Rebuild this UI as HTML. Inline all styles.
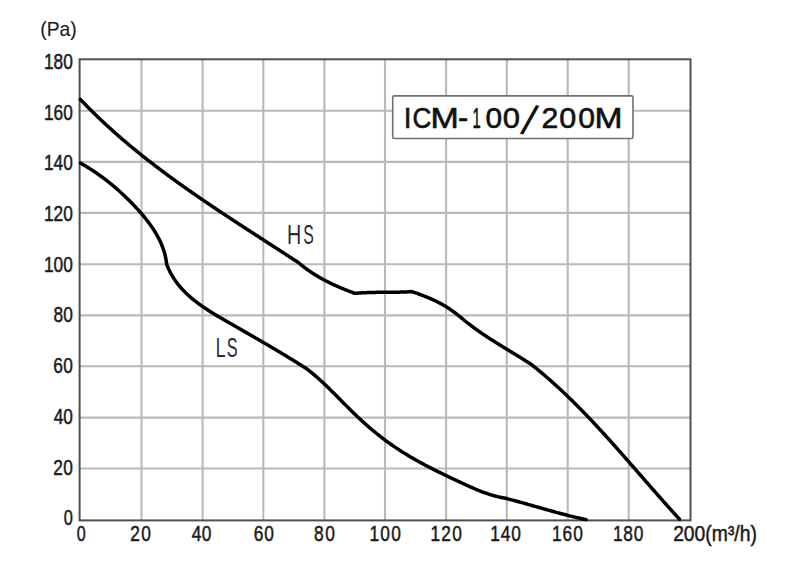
<!DOCTYPE html>
<html><head><meta charset="utf-8"><style>
html,body{margin:0;padding:0;background:#fff;}
svg{display:block;}
</style></head><body>
<svg width="800" height="576" viewBox="0 0 800 576">
<rect width="800" height="576" fill="#fff"/>
<g stroke="#b9b9b9" stroke-width="2.1" fill="none">
<line x1="141.5" y1="59.3" x2="141.5" y2="520.4"/>
<line x1="202.6" y1="59.3" x2="202.6" y2="520.4"/>
<line x1="263.3" y1="59.3" x2="263.3" y2="520.4"/>
<line x1="324.4" y1="59.3" x2="324.4" y2="520.4"/>
<line x1="385.0" y1="59.3" x2="385.0" y2="520.4"/>
<line x1="446.1" y1="59.3" x2="446.1" y2="520.4"/>
<line x1="506.8" y1="59.3" x2="506.8" y2="520.4"/>
<line x1="567.7" y1="59.3" x2="567.7" y2="520.4"/>
<line x1="628.7" y1="59.3" x2="628.7" y2="520.4"/>
<line x1="79.6" y1="468.5" x2="690.5" y2="468.5"/>
<line x1="79.6" y1="417.6" x2="690.5" y2="417.6"/>
<line x1="79.6" y1="366.3" x2="690.5" y2="366.3"/>
<line x1="79.6" y1="315.4" x2="690.5" y2="315.4"/>
<line x1="79.6" y1="264.3" x2="690.5" y2="264.3"/>
<line x1="79.6" y1="212.9" x2="690.5" y2="212.9"/>
<line x1="79.6" y1="161.9" x2="690.5" y2="161.9"/>
<line x1="79.6" y1="110.8" x2="690.5" y2="110.8"/>
</g>
<rect x="79.6" y="59.3" width="610.9" height="461.1" fill="none" stroke="#505050" stroke-width="2.0"/>
<rect x="392.7" y="95.9" width="240.3" height="42.6" rx="1.5" fill="#fff" stroke="#707070" stroke-width="1.6"/>
<g fill="none" stroke="#000" stroke-width="3.5" stroke-linejoin="round" stroke-linecap="round">
<path d="M80.40,99.40 L81.10,100.14 L81.80,100.87 L82.50,101.61 L83.21,102.34 L83.91,103.07 L84.62,103.80 L85.32,104.53 L86.03,105.26 L86.74,105.98 L87.45,106.70 L88.17,107.43 L88.88,108.15 L89.60,108.87 L90.31,109.58 L91.03,110.30 L91.75,111.01 L92.47,111.73 L93.19,112.44 L93.91,113.15 L94.63,113.85 L95.36,114.56 L96.08,115.27 L96.81,115.97 L97.54,116.67 L98.27,117.37 L99.00,118.07 L99.73,118.77 L100.46,119.47 L101.20,120.16 L101.93,120.86 L102.67,121.55 L103.41,122.24 L104.15,122.93 L104.89,123.62 L105.63,124.30 L106.37,124.99 L107.11,125.67 L107.86,126.35 L108.60,127.04 L109.35,127.72 L110.09,128.39 L110.84,129.07 L111.59,129.75 L112.34,130.42 L113.10,131.09 L113.85,131.77 L114.60,132.44 L115.36,133.11 L116.11,133.77 L116.87,134.44 L117.63,135.11 L118.39,135.77 L119.15,136.43 L119.91,137.09 L120.67,137.75 L121.43,138.41 L122.20,139.07 L122.96,139.73 L123.73,140.38 L124.49,141.04 L125.26,141.69 L126.03,142.34 L126.80,142.99 L127.57,143.64 L128.34,144.29 L129.11,144.94 L129.89,145.58 L130.66,146.23 L131.44,146.87 L132.21,147.52 L132.99,148.16 L133.77,148.80 L134.55,149.44 L135.33,150.07 L136.11,150.71 L136.89,151.35 L137.67,151.98 L138.46,152.62 L139.24,153.25 L140.03,153.88 L140.81,154.51 L141.60,155.14 L142.39,155.77 L143.17,156.39 L143.96,157.02 L144.75,157.65 L145.55,158.27 L146.34,158.89 L147.13,159.51 L147.92,160.14 L148.72,160.76 L149.51,161.38 L150.31,161.99 L151.10,162.61 L151.90,163.23 L152.70,163.84 L153.50,164.46 L154.30,165.07 L155.10,165.68 L155.90,166.29 L156.70,166.90 L157.50,167.51 L158.31,168.12 L159.11,168.73 L159.92,169.34 L160.72,169.94 L161.53,170.55 L162.34,171.15 L163.14,171.76 L163.95,172.36 L164.76,172.96 L165.57,173.56 L166.38,174.16 L167.19,174.76 L168.00,175.36 L168.81,175.95 L169.63,176.55 L170.44,177.15 L171.25,177.74 L172.07,178.34 L172.89,178.93 L173.70,179.52 L174.52,180.11 L175.34,180.71 L176.15,181.30 L176.97,181.88 L177.79,182.47 L178.61,183.06 L179.43,183.65 L180.25,184.24 L181.07,184.82 L181.89,185.41 L182.72,185.99 L183.54,186.58 L184.36,187.16 L185.19,187.74 L186.01,188.32 L186.84,188.90 L187.66,189.48 L188.49,190.06 L189.32,190.64 L190.14,191.22 L190.97,191.80 L191.80,192.38 L192.63,192.95 L193.46,193.53 L194.29,194.10 L195.12,194.68 L195.95,195.25 L196.78,195.83 L197.61,196.40 L198.44,196.97 L199.27,197.54 L200.11,198.12 L200.94,198.69 L201.77,199.26 L202.61,199.83 L203.44,200.39 L204.28,200.96 L205.11,201.53 L205.95,202.10 L206.79,202.67 L207.62,203.23 L208.46,203.80 L209.30,204.36 L210.13,204.93 L210.97,205.49 L211.81,206.06 L212.65,206.62 L213.49,207.19 L214.33,207.75 L215.17,208.31 L216.01,208.87 L216.85,209.43 L217.69,210.00 L218.53,210.56 L219.37,211.12 L220.21,211.68 L221.05,212.24 L221.90,212.80 L222.74,213.35 L223.58,213.91 L224.42,214.47 L225.27,215.03 L226.11,215.59 L226.96,216.14 L227.80,216.70 L228.64,217.26 L229.49,217.81 L230.33,218.37 L231.18,218.92 L232.02,219.48 L232.87,220.03 L233.71,220.59 L234.56,221.14 L235.41,221.70 L236.25,222.25 L237.10,222.80 L237.94,223.36 L238.79,223.91 L239.64,224.46 L240.49,225.02 L241.33,225.57 L242.18,226.12 L243.03,226.67 L243.88,227.22 L244.72,227.78 L245.57,228.33 L246.42,228.88 L247.27,229.43 L248.12,229.98 L248.96,230.53 L249.81,231.08 L250.66,231.63 L251.51,232.18 L252.36,232.73 L253.21,233.28 L254.06,233.83 L254.91,234.38 L255.75,234.93 L256.60,235.48 L257.45,236.03 L258.30,236.58 L259.15,237.13 L260.00,237.68 L260.85,238.23 L261.70,238.78 L262.55,239.33 L263.40,239.88 L264.25,240.43 L265.10,240.97 L265.95,241.52 L266.79,242.07 L267.64,242.62 L268.49,243.17 L269.34,243.72 L270.19,244.27 L271.04,244.82 L271.89,245.37 L272.74,245.92 L273.59,246.47 L274.44,247.02 L275.29,247.56 L276.13,248.11 L276.98,248.66 L277.83,249.21 L278.68,249.76 L279.53,250.31 L280.38,250.86 L281.22,251.41 L282.07,251.96 L282.92,252.51 L283.77,253.06 L284.62,253.61 L285.46,254.16 L286.31,254.72 L287.16,255.27 L288.01,255.82 L288.85,256.37 L289.70,256.92 L290.55,257.47 L291.39,258.02 L292.24,258.58 L293.08,259.13 L293.93,259.68 L294.78,260.23 L295.62,260.79 L296.47,261.34 L297.31,261.89 L298.16,262.45 L299.00,263.00 L299.61,263.52 L300.23,264.04 L300.84,264.56 L301.47,265.07 L302.09,265.58 L302.72,266.08 L303.35,266.58 L303.99,267.07 L304.63,267.56 L305.27,268.04 L305.91,268.53 L306.56,269.00 L307.21,269.48 L307.87,269.94 L308.52,270.41 L309.18,270.87 L309.85,271.33 L310.51,271.78 L311.18,272.23 L311.85,272.68 L312.52,273.12 L313.20,273.55 L313.88,273.99 L314.56,274.42 L315.25,274.85 L315.93,275.27 L316.62,275.69 L317.31,276.10 L318.01,276.52 L318.70,276.92 L319.40,277.33 L320.10,277.73 L320.81,278.13 L321.51,278.52 L322.22,278.91 L322.93,279.30 L323.64,279.69 L324.35,280.07 L325.07,280.45 L325.78,280.82 L326.50,281.19 L327.22,281.56 L327.94,281.93 L328.67,282.29 L329.39,282.65 L330.12,283.01 L330.85,283.36 L331.58,283.71 L332.31,284.06 L333.04,284.40 L333.78,284.75 L334.51,285.09 L335.25,285.42 L335.99,285.76 L336.73,286.09 L337.47,286.42 L338.21,286.74 L338.95,287.06 L339.69,287.38 L340.44,287.70 L341.18,288.02 L341.93,288.33 L342.68,288.64 L343.42,288.95 L344.17,289.25 L344.92,289.56 L345.67,289.86 L346.42,290.16 L347.17,290.45 L347.92,290.75 L348.67,291.04 L349.43,291.33 L350.18,291.62 L350.93,291.90 L351.69,292.19 L352.44,292.47 L353.19,292.75 L353.95,293.02 L354.70,293.30 L356.54,293.15 L358.38,293.02 L360.22,292.90 L362.06,292.80 L363.90,292.71 L365.74,292.64 L367.58,292.57 L369.42,292.51 L371.26,292.47 L373.11,292.43 L374.95,292.40 L376.79,292.37 L378.63,292.35 L380.48,292.33 L382.32,292.32 L384.16,292.30 L386.01,292.29 L387.85,292.28 L389.69,292.27 L391.54,292.25 L393.38,292.23 L395.22,292.20 L397.07,292.17 L398.91,292.14 L400.75,292.09 L402.59,292.04 L404.44,291.97 L406.28,291.90 L408.12,291.81 L409.96,291.71 L411.80,291.60 L412.56,291.86 L413.33,292.12 L414.09,292.38 L414.85,292.65 L415.61,292.91 L416.37,293.18 L417.13,293.45 L417.89,293.72 L418.65,294.00 L419.41,294.27 L420.17,294.55 L420.93,294.83 L421.68,295.12 L422.44,295.40 L423.19,295.69 L423.94,295.98 L424.69,296.27 L425.44,296.57 L426.19,296.87 L426.94,297.17 L427.69,297.48 L428.43,297.78 L429.17,298.10 L429.91,298.41 L430.65,298.73 L431.39,299.05 L432.12,299.38 L432.86,299.71 L433.59,300.04 L434.31,300.38 L435.04,300.72 L435.76,301.06 L436.49,301.41 L437.20,301.77 L437.92,302.13 L438.63,302.49 L439.34,302.86 L440.05,303.23 L440.76,303.60 L441.46,303.98 L442.16,304.37 L442.86,304.76 L443.55,305.16 L444.24,305.56 L444.93,305.96 L445.61,306.38 L446.29,306.79 L446.96,307.22 L447.64,307.64 L448.31,308.08 L448.97,308.52 L449.63,308.96 L450.29,309.41 L450.94,309.87 L451.59,310.33 L452.24,310.80 L452.89,311.27 L453.53,311.75 L454.17,312.23 L454.80,312.71 L455.44,313.20 L456.07,313.69 L456.70,314.18 L457.33,314.68 L457.95,315.18 L458.58,315.68 L459.20,316.18 L459.83,316.69 L460.45,317.19 L461.07,317.70 L461.69,318.21 L462.32,318.71 L462.94,319.22 L463.56,319.73 L464.18,320.23 L464.81,320.74 L465.43,321.24 L466.06,321.75 L466.69,322.25 L467.32,322.75 L467.95,323.25 L468.58,323.74 L469.21,324.23 L469.85,324.72 L470.49,325.21 L471.13,325.69 L471.77,326.18 L472.41,326.66 L473.05,327.14 L473.70,327.61 L474.35,328.09 L475.00,328.56 L475.65,329.03 L476.30,329.50 L476.95,329.96 L477.61,330.43 L478.26,330.89 L478.92,331.35 L479.58,331.81 L480.24,332.27 L480.90,332.72 L481.56,333.17 L482.23,333.63 L482.89,334.08 L483.56,334.53 L484.23,334.97 L484.89,335.42 L485.56,335.86 L486.23,336.31 L486.90,336.75 L487.58,337.19 L488.25,337.63 L488.92,338.07 L489.60,338.50 L490.27,338.94 L490.95,339.37 L491.63,339.81 L492.31,340.24 L492.98,340.67 L493.66,341.10 L494.34,341.53 L495.03,341.96 L495.71,342.39 L496.39,342.81 L497.07,343.24 L497.75,343.66 L498.44,344.09 L499.12,344.51 L499.81,344.94 L500.49,345.36 L501.18,345.78 L501.86,346.20 L502.55,346.62 L503.23,347.05 L503.92,347.47 L504.61,347.89 L505.29,348.31 L505.98,348.72 L506.67,349.14 L507.36,349.56 L508.04,349.98 L508.73,350.40 L509.42,350.82 L510.10,351.24 L510.79,351.66 L511.48,352.07 L512.17,352.49 L512.85,352.91 L513.54,353.33 L514.23,353.75 L514.91,354.17 L515.60,354.59 L516.29,355.01 L516.97,355.43 L517.66,355.85 L518.34,356.27 L519.03,356.69 L519.71,357.11 L520.39,357.54 L521.08,357.96 L521.76,358.38 L522.44,358.81 L523.12,359.23 L523.81,359.66 L524.49,360.08 L525.17,360.51 L525.84,360.94 L526.52,361.37 L527.20,361.80 L527.88,362.23 L528.55,362.66 L529.23,363.09 L529.90,363.53 L530.58,363.96 L531.25,364.40 L532.26,365.20 L533.27,366.01 L534.27,366.81 L535.28,367.62 L536.28,368.44 L537.27,369.25 L538.27,370.07 L539.26,370.89 L540.25,371.71 L541.24,372.54 L542.22,373.37 L543.21,374.20 L544.19,375.03 L545.16,375.87 L546.14,376.71 L547.11,377.55 L548.08,378.39 L549.05,379.24 L550.01,380.09 L550.98,380.94 L551.94,381.79 L552.89,382.65 L553.85,383.51 L554.80,384.37 L555.76,385.23 L556.71,386.09 L557.65,386.96 L558.60,387.83 L559.54,388.70 L560.48,389.57 L561.42,390.45 L562.36,391.33 L563.29,392.21 L564.23,393.09 L565.16,393.97 L566.09,394.86 L567.01,395.75 L567.94,396.64 L568.86,397.53 L569.78,398.42 L570.70,399.32 L571.62,400.22 L572.53,401.11 L573.45,402.02 L574.36,402.92 L575.27,403.82 L576.18,404.73 L577.09,405.64 L577.99,406.55 L578.90,407.46 L579.80,408.37 L580.70,409.29 L581.60,410.20 L582.50,411.12 L583.39,412.04 L584.29,412.96 L585.18,413.88 L586.07,414.81 L586.96,415.73 L587.85,416.66 L588.74,417.59 L589.62,418.52 L590.51,419.45 L591.39,420.38 L592.27,421.32 L593.15,422.25 L594.03,423.19 L594.91,424.13 L595.79,425.06 L596.66,426.00 L597.54,426.95 L598.41,427.89 L599.28,428.83 L600.16,429.78 L601.03,430.72 L601.89,431.67 L602.76,432.62 L603.63,433.56 L604.50,434.51 L605.36,435.47 L606.22,436.42 L607.09,437.37 L607.95,438.32 L608.81,439.28 L609.67,440.23 L610.53,441.19 L611.39,442.15 L612.25,443.10 L613.11,444.06 L613.96,445.02 L614.82,445.98 L615.67,446.94 L616.53,447.90 L617.38,448.86 L618.24,449.83 L619.09,450.79 L619.94,451.75 L620.79,452.72 L621.64,453.68 L622.49,454.65 L623.35,455.61 L624.19,456.58 L625.04,457.54 L625.89,458.51 L626.74,459.48 L627.59,460.45 L628.44,461.41 L629.28,462.38 L630.13,463.35 L630.98,464.32 L631.82,465.29 L632.67,466.26 L633.52,467.23 L634.36,468.20 L635.21,469.17 L636.05,470.14 L636.90,471.11 L637.74,472.08 L638.59,473.05 L639.43,474.02 L640.28,474.99 L641.12,475.96 L641.97,476.93 L642.81,477.90 L643.66,478.87 L644.50,479.84 L645.35,480.81 L646.19,481.78 L647.04,482.74 L647.89,483.71 L648.73,484.68 L649.58,485.65 L650.42,486.62 L651.27,487.59 L652.12,488.55 L652.96,489.52 L653.81,490.49 L654.66,491.45 L655.51,492.42 L656.36,493.39 L657.21,494.35 L658.06,495.32 L658.91,496.28 L659.76,497.24 L660.61,498.21 L661.46,499.17 L662.31,500.13 L663.16,501.09 L664.02,502.05 L664.87,503.01 L665.72,503.97 L666.58,504.93 L667.43,505.89 L668.29,506.84 L669.15,507.80 L670.01,508.75 L670.87,509.71 L671.72,510.66 L672.59,511.61 L673.45,512.57 L674.31,513.52 L675.17,514.47 L676.04,515.42 L676.90,516.36 L677.77,517.31 L678.63,518.26 L679.50,519.20"/>
<path d="M80.50,163.10 L81.43,163.63 L82.36,164.16 L83.29,164.70 L84.21,165.25 L85.14,165.79 L86.06,166.35 L86.97,166.91 L87.89,167.47 L88.80,168.04 L89.71,168.61 L90.61,169.19 L91.52,169.77 L92.42,170.36 L93.32,170.95 L94.21,171.55 L95.10,172.15 L95.99,172.76 L96.88,173.37 L97.77,173.98 L98.65,174.60 L99.53,175.23 L100.40,175.86 L101.27,176.49 L102.15,177.13 L103.01,177.77 L103.88,178.42 L104.74,179.07 L105.60,179.72 L106.45,180.38 L107.31,181.04 L108.16,181.71 L109.00,182.38 L109.85,183.06 L110.69,183.74 L111.53,184.42 L112.36,185.11 L113.20,185.80 L114.03,186.50 L114.85,187.20 L115.67,187.91 L116.50,188.61 L117.31,189.33 L118.13,190.04 L118.94,190.76 L119.75,191.49 L120.55,192.21 L121.35,192.94 L122.15,193.68 L122.95,194.42 L123.74,195.16 L124.53,195.91 L125.31,196.66 L126.09,197.41 L126.87,198.17 L127.65,198.93 L128.42,199.69 L129.19,200.46 L129.96,201.23 L130.72,202.00 L131.48,202.78 L132.24,203.56 L132.99,204.35 L133.74,205.13 L134.49,205.92 L135.23,206.72 L135.97,207.52 L136.71,208.32 L137.44,209.12 L138.17,209.93 L138.89,210.74 L139.62,211.55 L140.33,212.37 L141.05,213.19 L141.76,214.01 L142.46,214.84 L143.16,215.67 L143.86,216.50 L144.55,217.34 L145.23,218.18 L145.91,219.02 L146.59,219.87 L147.25,220.73 L147.91,221.58 L148.57,222.44 L149.21,223.31 L149.85,224.18 L150.48,225.05 L151.10,225.93 L151.72,226.81 L152.33,227.70 L152.92,228.59 L153.51,229.49 L154.09,230.39 L154.67,231.30 L155.23,232.21 L155.78,233.12 L156.32,234.04 L156.85,234.97 L157.37,235.90 L157.88,236.84 L158.38,237.78 L158.87,238.73 L159.35,239.68 L159.81,240.64 L160.27,241.60 L160.71,242.57 L161.13,243.55 L161.55,244.53 L161.95,245.52 L162.34,246.51 L162.72,247.51 L163.08,248.52 L163.43,249.53 L163.76,250.55 L164.08,251.58 L164.39,252.61 L164.68,253.64 L164.95,254.69 L165.21,255.74 L165.45,256.80 L165.68,257.86 L165.89,258.93 L166.09,260.01 L166.27,261.10 L166.43,262.19 L166.57,263.29 L166.70,264.40 L167.14,265.54 L167.60,266.67 L168.08,267.78 L168.57,268.88 L169.08,269.97 L169.60,271.04 L170.14,272.10 L170.69,273.15 L171.26,274.18 L171.84,275.20 L172.43,276.21 L173.04,277.20 L173.66,278.19 L174.30,279.16 L174.94,280.11 L175.61,281.06 L176.28,282.00 L176.97,282.92 L177.66,283.83 L178.37,284.73 L179.10,285.63 L179.83,286.51 L180.58,287.38 L181.33,288.24 L182.10,289.08 L182.88,289.92 L183.67,290.75 L184.46,291.57 L185.27,292.39 L186.09,293.19 L186.92,293.98 L187.76,294.77 L188.60,295.54 L189.46,296.31 L190.32,297.07 L191.19,297.82 L192.07,298.56 L192.96,299.30 L193.86,300.03 L194.76,300.75 L195.67,301.47 L196.59,302.17 L197.52,302.87 L198.45,303.57 L199.39,304.26 L200.33,304.94 L201.28,305.61 L202.24,306.29 L203.20,306.95 L204.17,307.61 L205.14,308.26 L206.11,308.91 L207.10,309.56 L208.08,310.20 L209.07,310.83 L210.07,311.47 L211.06,312.09 L212.07,312.72 L213.07,313.34 L214.08,313.95 L215.09,314.57 L216.10,315.18 L217.12,315.79 L218.14,316.39 L219.16,316.99 L220.18,317.59 L221.20,318.19 L222.22,318.79 L223.25,319.38 L224.28,319.97 L225.30,320.56 L226.33,321.15 L227.36,321.74 L228.39,322.33 L229.41,322.92 L230.44,323.51 L231.47,324.09 L232.49,324.68 L233.52,325.27 L234.54,325.85 L235.56,326.44 L236.59,327.02 L237.61,327.61 L238.63,328.19 L239.65,328.78 L240.67,329.36 L241.69,329.95 L242.71,330.53 L243.73,331.12 L244.75,331.70 L245.77,332.29 L246.79,332.87 L247.80,333.46 L248.82,334.04 L249.84,334.63 L250.85,335.21 L251.87,335.80 L252.88,336.38 L253.90,336.97 L254.91,337.55 L255.92,338.14 L256.93,338.73 L257.95,339.31 L258.96,339.90 L259.97,340.49 L260.98,341.07 L261.99,341.66 L263.00,342.25 L264.01,342.84 L265.01,343.43 L266.02,344.02 L267.03,344.61 L268.04,345.20 L269.04,345.79 L270.05,346.38 L271.06,346.98 L272.06,347.57 L273.07,348.16 L274.07,348.76 L275.07,349.35 L276.08,349.95 L277.08,350.55 L278.08,351.15 L279.09,351.74 L280.09,352.34 L281.09,352.94 L282.09,353.54 L283.09,354.15 L284.09,354.75 L285.09,355.35 L286.09,355.96 L287.09,356.56 L288.09,357.17 L289.08,357.78 L290.08,358.39 L291.08,359.00 L292.08,359.61 L293.07,360.22 L294.07,360.84 L295.07,361.45 L296.06,362.07 L297.06,362.68 L298.05,363.30 L299.05,363.92 L300.04,364.54 L301.04,365.17 L302.03,365.79 L303.02,366.42 L304.01,367.04 L305.01,367.67 L306.00,368.30 L307.10,369.13 L308.20,369.97 L309.29,370.82 L310.37,371.68 L311.45,372.55 L312.51,373.42 L313.57,374.31 L314.63,375.20 L315.68,376.09 L316.72,377.00 L317.75,377.90 L318.78,378.82 L319.81,379.74 L320.83,380.67 L321.84,381.60 L322.85,382.54 L323.86,383.48 L324.86,384.43 L325.86,385.38 L326.86,386.34 L327.85,387.30 L328.83,388.26 L329.82,389.22 L330.80,390.19 L331.78,391.16 L332.76,392.14 L333.74,393.11 L334.71,394.09 L335.69,395.07 L336.66,396.05 L337.63,397.03 L338.60,398.02 L339.57,399.00 L340.54,399.98 L341.51,400.97 L342.48,401.95 L343.45,402.93 L344.42,403.91 L345.39,404.89 L346.37,405.87 L347.34,406.85 L348.32,407.82 L349.30,408.80 L350.28,409.77 L351.26,410.73 L352.25,411.70 L353.24,412.66 L354.23,413.62 L355.22,414.57 L356.22,415.53 L357.22,416.48 L358.22,417.42 L359.23,418.36 L360.24,419.30 L361.25,420.24 L362.27,421.17 L363.29,422.09 L364.31,423.02 L365.33,423.94 L366.36,424.85 L367.40,425.76 L368.43,426.67 L369.47,427.57 L370.52,428.47 L371.57,429.36 L372.62,430.25 L373.68,431.13 L374.74,432.01 L375.80,432.88 L376.87,433.75 L377.95,434.61 L379.03,435.46 L380.11,436.32 L381.20,437.16 L382.29,438.00 L383.39,438.83 L384.49,439.66 L385.60,440.48 L386.71,441.30 L387.83,442.11 L388.95,442.91 L390.08,443.71 L391.21,444.51 L392.35,445.29 L393.48,446.08 L394.63,446.85 L395.77,447.62 L396.92,448.39 L398.07,449.15 L399.23,449.91 L400.39,450.66 L401.55,451.41 L402.71,452.15 L403.88,452.88 L405.05,453.61 L406.22,454.34 L407.40,455.05 L408.58,455.77 L409.76,456.47 L410.95,457.17 L412.14,457.87 L413.33,458.56 L414.52,459.24 L415.72,459.92 L416.92,460.60 L418.12,461.27 L419.33,461.93 L420.54,462.60 L421.75,463.25 L422.96,463.90 L424.17,464.55 L425.39,465.20 L426.61,465.84 L427.83,466.48 L429.05,467.11 L430.28,467.74 L431.51,468.37 L432.73,468.99 L433.97,469.61 L435.20,470.23 L436.43,470.84 L437.67,471.46 L438.90,472.07 L440.14,472.67 L441.38,473.28 L442.62,473.88 L443.86,474.49 L445.10,475.08 L446.35,475.68 L447.59,476.28 L448.84,476.87 L450.09,477.47 L451.33,478.06 L452.58,478.65 L453.83,479.24 L455.08,479.83 L456.33,480.42 L457.58,481.01 L458.83,481.60 L460.08,482.19 L461.33,482.78 L462.58,483.36 L463.84,483.94 L465.09,484.52 L466.35,485.10 L467.61,485.67 L468.87,486.24 L470.13,486.80 L471.39,487.36 L472.65,487.91 L473.92,488.45 L475.19,488.99 L476.46,489.52 L477.74,490.04 L479.02,490.56 L480.30,491.06 L481.58,491.56 L482.87,492.04 L484.16,492.52 L485.45,492.98 L486.75,493.44 L488.05,493.88 L489.36,494.31 L490.67,494.72 L491.98,495.13 L493.30,495.51 L494.63,495.89 L495.95,496.25 L497.29,496.59 L498.63,496.92 L499.97,497.23 L501.32,497.52 L502.67,497.80 L504.03,498.06 L505.40,498.30 L506.42,498.56 L507.45,498.81 L508.47,499.08 L509.49,499.34 L510.52,499.60 L511.54,499.87 L512.56,500.14 L513.58,500.41 L514.60,500.68 L515.62,500.95 L516.64,501.23 L517.66,501.50 L518.68,501.78 L519.70,502.06 L520.72,502.34 L521.74,502.62 L522.76,502.90 L523.77,503.19 L524.79,503.47 L525.81,503.76 L526.83,504.04 L527.84,504.33 L528.86,504.62 L529.88,504.90 L530.90,505.19 L531.91,505.48 L532.93,505.77 L533.95,506.06 L534.96,506.35 L535.98,506.64 L537.00,506.93 L538.01,507.22 L539.03,507.51 L540.05,507.80 L541.06,508.09 L542.08,508.38 L543.10,508.67 L544.11,508.96 L545.13,509.25 L546.15,509.54 L547.16,509.82 L548.18,510.11 L549.20,510.40 L550.22,510.68 L551.24,510.96 L552.25,511.25 L553.27,511.53 L554.29,511.81 L555.31,512.09 L556.33,512.37 L557.35,512.65 L558.37,512.92 L559.39,513.20 L560.41,513.47 L561.43,513.74 L562.45,514.01 L563.48,514.28 L564.50,514.55 L565.52,514.81 L566.54,515.07 L567.57,515.33 L568.59,515.59 L569.62,515.85 L570.64,516.10 L571.67,516.36 L572.70,516.60 L573.72,516.85 L574.75,517.10 L575.78,517.34 L576.81,517.58 L577.84,517.81 L578.87,518.05 L579.90,518.28 L580.93,518.51 L581.96,518.73 L583.00,518.95 L584.03,519.17 L585.06,519.39 L586.10,519.60"/>
</g>
<g font-family="Liberation Sans, Arial, sans-serif" fill="#1a1a1a" stroke="#1a1a1a" stroke-width="0.5">
<text transform="translate(43.88 69.00) scale(0.7900 1)" font-size="21.90" letter-spacing="0.02">180</text>
<text transform="translate(43.88 119.69) scale(0.7900 1)" font-size="21.90" letter-spacing="0.02">160</text>
<text transform="translate(43.88 170.38) scale(0.7900 1)" font-size="21.90" letter-spacing="0.02">140</text>
<text transform="translate(43.88 221.07) scale(0.7900 1)" font-size="21.90" letter-spacing="0.02">120</text>
<text transform="translate(43.88 271.76) scale(0.7900 1)" font-size="21.90" letter-spacing="0.02">100</text>
<text transform="translate(53.45 322.45) scale(0.7900 1)" font-size="21.90" letter-spacing="0.11">80</text>
<text transform="translate(53.32 373.14) scale(0.7900 1)" font-size="21.90" letter-spacing="0.27">60</text>
<text transform="translate(53.80 423.83) scale(0.7900 1)" font-size="21.90" letter-spacing="-0.34">40</text>
<text transform="translate(53.33 474.52) scale(0.7900 1)" font-size="21.90" letter-spacing="0.26">20</text>
<text transform="translate(63.66 525.21) scale(0.7451 1)" font-size="21.90">0</text>
<text transform="translate(76.77 540.70) scale(0.7355 1)" font-size="21.90">0</text>
<text transform="translate(130.33 540.70) scale(0.7900 1)" font-size="21.90" letter-spacing="1.77">20</text>
<text transform="translate(191.80 540.70) scale(0.7900 1)" font-size="21.90" letter-spacing="0.42">40</text>
<text transform="translate(253.82 540.70) scale(0.7900 1)" font-size="21.90" letter-spacing="1.15">60</text>
<text transform="translate(313.95 540.70) scale(0.7900 1)" font-size="21.90" letter-spacing="2.13">80</text>
<text transform="translate(369.48 540.70) scale(0.7900 1)" font-size="21.90" letter-spacing="1.60">100</text>
<text transform="translate(430.38 540.70) scale(0.7900 1)" font-size="21.90" letter-spacing="1.60">120</text>
<text transform="translate(490.18 540.70) scale(0.7900 1)" font-size="21.90" letter-spacing="1.16">140</text>
<text transform="translate(552.08 540.70) scale(0.7900 1)" font-size="21.90" letter-spacing="1.16">160</text>
<text transform="translate(612.88 540.70) scale(0.7900 1)" font-size="21.90" letter-spacing="1.09">180</text>
<text transform="translate(673.13 540.70) scale(0.8825 1)" font-size="21.90">200(m³/h)</text>
<text transform="translate(40.31 35.90) scale(0.9261 1)" font-size="20.80" stroke-width="0.15">(Pa)</text>
</g>
<g font-family="Liberation Sans, Arial, sans-serif" fill="#2a2a2a">
<text font-size="28.00"><tspan x="286.88" y="243.80" textLength="14.22" lengthAdjust="spacingAndGlyphs">H</tspan><tspan x="303.28" y="243.80" textLength="10.54" lengthAdjust="spacingAndGlyphs">S</tspan></text>
<text font-size="28.00"><tspan x="215.77" y="357.00" textLength="9.71" lengthAdjust="spacingAndGlyphs">L</tspan><tspan x="226.76" y="357.00" textLength="10.89" lengthAdjust="spacingAndGlyphs">S</tspan></text>
</g>
<g font-family="Liberation Sans, Arial, sans-serif" fill="#111">
<text font-size="29.50" stroke="#111" stroke-width="0.6"><tspan x="403.83" y="128.10" textLength="7.75" lengthAdjust="spacingAndGlyphs">I</tspan><tspan x="412.48" y="128.10" textLength="18.82" lengthAdjust="spacingAndGlyphs">C</tspan><tspan x="430.62" y="128.10" textLength="28.27" lengthAdjust="spacingAndGlyphs">M</tspan><tspan x="457.94" y="128.10" textLength="10.23" lengthAdjust="spacingAndGlyphs">-</tspan><tspan x="472.57" y="128.10" textLength="8.26" lengthAdjust="spacingAndGlyphs">1</tspan><tspan x="485.43" y="128.10" textLength="16.64" lengthAdjust="spacingAndGlyphs">0</tspan><tspan x="502.79" y="128.10" textLength="17.22" lengthAdjust="spacingAndGlyphs">0</tspan><tspan x="520.00" y="133.20" font-size="43.00" rotate="14.0" stroke-width="0">/</tspan><tspan x="541.58" y="128.10" textLength="16.85" lengthAdjust="spacingAndGlyphs">2</tspan><tspan x="559.31" y="128.10" textLength="16.99" lengthAdjust="spacingAndGlyphs">0</tspan><tspan x="578.22" y="128.10" textLength="16.75" lengthAdjust="spacingAndGlyphs">0</tspan><tspan x="594.44" y="128.10" textLength="28.02" lengthAdjust="spacingAndGlyphs">M</tspan></text>
</g>
</svg>
</body></html>
